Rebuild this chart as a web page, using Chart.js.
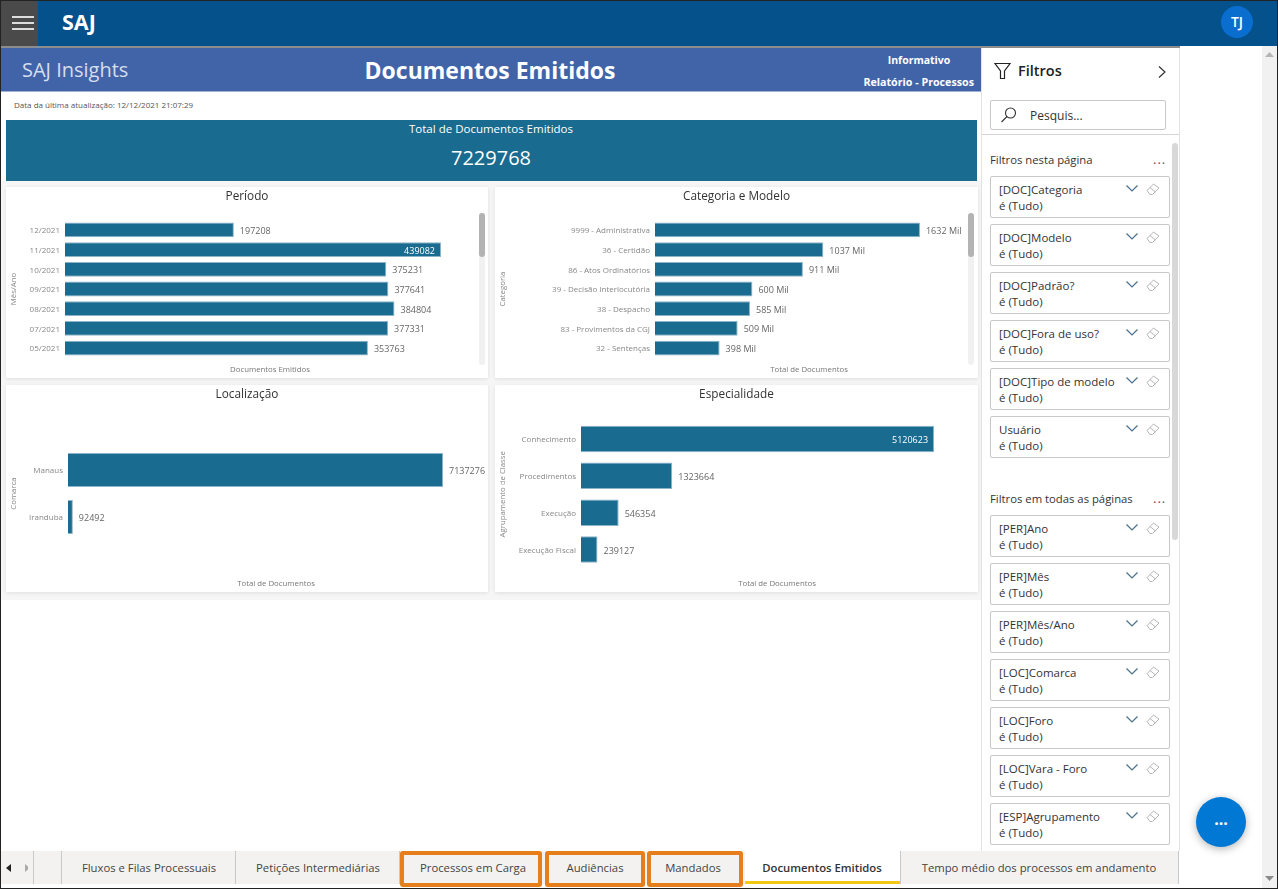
<!DOCTYPE html>
<html lang="pt">
<head>
<meta charset="utf-8">
<title>Documentos Emitidos</title>
<script src="https://cdn.jsdelivr.net/npm/chart.js@4"></script>
<style>
  * { box-sizing: border-box; }
  html, body { margin: 0; width: 1278px; height: 889px; overflow: hidden; background: #fff; font-family: "Open Sans", sans-serif; }
  .abs { position: absolute; }
  .center { text-align: center; transform: translateX(-50%); white-space: nowrap; }
  #frame { left: 0; top: 0; width: 1278px; height: 889px; border: 1px solid #222; z-index: 50; pointer-events: none; }
  .panel { position: absolute; background: #fff; box-shadow: 0 1px 4px rgba(0,0,0,.10); }
  .panel canvas { display: block; }
  .card { position: absolute; left: 990px; width: 180px; height: 42px; border: 1px solid #c8c8c8; border-radius: 2px; background: #fff; font-size: 11.5px; line-height: 16px; padding: 5px 0 0 8px; color: #333; }
  .card svg { position: absolute; top: 7px; }
  .tab { position: absolute; top: 860px; font-size: 11.3px; color: #444; white-space: nowrap; transform: translateX(-50%); }
  .sep { position: absolute; top: 851px; width: 1px; height: 33px; background: #c8c8c8; }
  .orange { position: absolute; top: 851px; height: 36px; border: 4px solid #e67e1c; border-radius: 3px; z-index: 5; }
</style>
</head>
<body>
<div class="abs" id="frame"></div>

<!-- Top bar -->
<div class="abs" style="left:0;top:0;width:1278px;height:46px;background:#04518c"></div>
<div class="abs" style="left:1px;top:1px;width:37px;height:45px;background:#4a4a4a"></div>
<div class="abs" style="left:12px;top:16px;width:22px;height:2px;background:#ddd"></div>
<div class="abs" style="left:12px;top:22px;width:22px;height:2px;background:#ddd"></div>
<div class="abs" style="left:12px;top:28px;width:22px;height:2px;background:#ddd"></div>
<div class="abs" style="left:62px;top:9px;color:#fff;font-size:21.5px;font-weight:700;line-height:26px">SAJ</div>
<div class="abs" style="left:1221px;top:6px;width:32px;height:32px;border-radius:50%;background:#0a6ecf;color:#fff;font-size:14px;font-weight:600;line-height:32px;text-align:center">TJ</div>

<!-- Report header -->
<div class="abs" style="left:1px;top:46px;width:1179px;height:2px;background:#8c8c8c"></div>
<div class="abs" style="left:1px;top:48px;width:980px;height:44px;background:#4164a9;border-bottom:1px solid #9fb2d6"></div>
<div class="abs" style="left:22px;top:57px;color:#d5deee;font-size:20px;line-height:26px">SAJ Insights</div>
<div class="abs center" style="left:490px;top:53px;color:#fff;font-size:23px;font-weight:700;line-height:34px">Documentos Emitidos</div>
<div class="abs center" style="left:919px;top:52px;color:#fff;font-size:10.5px;font-weight:700;line-height:16px">Informativo</div>
<div class="abs" style="right:304px;top:74px;color:#fff;font-size:10.7px;font-weight:700;line-height:16px;white-space:nowrap">Relatório - Processos</div>
<div class="abs" style="left:14px;top:98px;color:#555;font-size:8px;line-height:13px">Data da última atualização: 12/12/2021 21:07:29</div>

<!-- Total card -->
<div class="abs" style="left:6px;top:120px;width:971px;height:61px;background:#196b8f"></div>
<div class="abs center" style="left:491px;top:121px;color:#fff;font-size:11.5px;line-height:16px">Total de Documentos Emitidos</div>
<div class="abs center" style="left:491px;top:143px;color:#fff;font-size:20px;line-height:30px">7229768</div>

<!-- Charts -->
<div class="abs" style="left:1px;top:181px;width:980px;height:419px;background:#f6f6f6"></div>
<div class="panel" style="left:6px;top:187px;width:482px;height:191px"><canvas id="periodoChart" width="482" height="191"></canvas></div>
<div class="panel" style="left:495px;top:187px;width:483px;height:191px"><canvas id="categoriaChart" width="483" height="191"></canvas></div>
<div class="panel" style="left:6px;top:385px;width:482px;height:207px"><canvas id="localChart" width="482" height="207"></canvas></div>
<div class="panel" style="left:495px;top:385px;width:483px;height:207px"><canvas id="especialidadeChart" width="483" height="207"></canvas></div>
<div class="abs" style="left:479px;top:213px;width:6px;height:152px;background:#f1f1f1;border-radius:3px"></div>
<div class="abs" style="left:479px;top:213px;width:6px;height:44px;background:#b3b3b3;border-radius:3px"></div>
<div class="abs" style="left:968px;top:213px;width:6px;height:152px;background:#f1f1f1;border-radius:3px"></div>
<div class="abs" style="left:968px;top:213px;width:6px;height:44px;background:#b3b3b3;border-radius:3px"></div>

<!-- Filter pane -->
<div class="abs" style="left:981px;top:48px;width:199px;height:803px;background:#fff;border-left:1px solid #e3e3e3;border-right:1px solid #e3e3e3"></div>
<svg class="abs" style="left:994px;top:62px" width="18" height="18" viewBox="0 0 18 18" fill="none" stroke="#222" stroke-width="1.2"><path d="M1 1.5h15L10.5 9v7.5h-4V9z"/></svg>
<div class="abs" style="left:1018px;top:60px;color:#222;font-size:14.5px;font-weight:600;line-height:21px">Filtros</div>
<svg class="abs" style="left:1157px;top:65px" width="10" height="14" viewBox="0 0 10 14" fill="none" stroke="#333" stroke-width="1.2"><path d="M2 1.5l6 5.5-6 5.5"/></svg>
<div class="abs" style="left:990px;top:100px;width:176px;height:30px;border:1px solid #c8c8c8;border-radius:2px"></div>
<svg class="abs" style="left:1000px;top:106px" width="18" height="18" viewBox="0 0 18 18" fill="none" stroke="#333" stroke-width="1.1"><circle cx="10.5" cy="7" r="5"/><path d="M7 10.5L1.5 16"/></svg>
<div class="abs" style="left:1030px;top:107px;color:#333;font-size:12px;line-height:18px">Pesquis...</div>
<div class="abs" style="left:982px;top:134px;width:197px;height:1px;background:#d4d4d4"></div>
<div class="abs" style="left:1172px;top:143px;width:6px;height:397px;background:#d8d8d8;border-radius:3px"></div>
<div class="abs" style="left:990px;top:152px;color:#333;font-size:11.3px;line-height:16px">Filtros nesta página</div>
<div class="abs" style="left:1153px;top:151px;color:#555;font-size:13px;line-height:16px;letter-spacing:1px">...</div>
<div class="abs" style="left:990px;top:491px;color:#333;font-size:11.3px;line-height:16px">Filtros em todas as páginas</div>
<div class="abs" style="left:1153px;top:490px;color:#555;font-size:13px;line-height:16px;letter-spacing:1px">...</div>
<div id="filterCards"></div>

<!-- Page scrollbar -->
<div class="abs" style="left:1262px;top:46px;width:15px;height:842px;background:#f1f1f1"></div>
<svg class="abs" style="left:1265px;top:52px" width="9" height="6"><path d="M0 5h9L4.500 0z" fill="#b5b5b5"/></svg>
<svg class="abs" style="left:1265px;top:876px" width="9" height="6"><path d="M0 0h9L4.500 5z" fill="#8a8a8a"/></svg>

<!-- Floating button -->
<div class="abs" style="left:1196px;top:797px;width:50px;height:50px;border-radius:50%;background:#0078d4;box-shadow:0 2px 8px rgba(0,0,0,.3);color:#fff;font-size:16px;font-weight:700;line-height:44px;text-align:center">...</div>

<!-- Tabs -->
<div class="abs" style="left:1px;top:851px;width:1178px;height:33px;background:#f3f2f1"></div>
<div class="abs" style="left:745px;top:851px;width:155px;height:33px;background:#fff;border-bottom:3px solid #f2c811"></div>
<svg class="abs" style="left:6px;top:864px" width="22" height="8"><path d="M5 0v8L0 4z" fill="#222"/><path d="M23 0v8l5-4z" fill="#aaa" transform="translate(-4 0)"/></svg>
<div id="tabBar"></div>
<div class="orange" style="left:400px;width:142px"></div>
<div class="orange" style="left:545px;width:100px"></div>
<div class="orange" style="left:647px;width:96px"></div>

<script>
// Periodo
const periodoLabels = ['12/2021', '11/2021', '10/2021', '09/2021', '08/2021', '07/2021', '05/2021'];
const periodoValues = [197208, 439082, 375231, 377641, 384804, 377331, 353763];

// Categoria e Modelo (in thousands)
const categoriaLabels = ['9999 - Administrativa', '36 - Certidão', '86 - Atos Ordinatórios', '39 - Decisão Interlocutória', '38 - Despacho', '83 - Provimentos da CGJ', '32 - Sentenças'];
const categoriaValues = [1632, 1037, 911, 600, 585, 509, 398];

// Localizacao
const localLabels = ['Manaus', 'Iranduba'];
const localValues = [7137276, 92492];

// Especialidade
const especialidadeLabels = ['Conhecimento', 'Procedimentos', 'Execução', 'Execução Fiscal'];
const especialidadeValues = [5120623, 1323664, 546354, 239127];

// Filter pane and tabs
const pageFilters = ['[DOC]Categoria', '[DOC]Modelo', '[DOC]Padrão?', '[DOC]Fora de uso?', '[DOC]Tipo de modelo', 'Usuário'];
const allPageFilters = ['[PER]Ano', '[PER]Mês', '[PER]Mês/Ano', '[LOC]Comarca', '[LOC]Foro', '[LOC]Vara - Foro', '[ESP]Agrupamento'];
const tabNames = ['Fluxos e Filas Processuais', 'Petições Intermediárias', 'Processos em Carga', 'Audiências', 'Mandados', 'Documentos Emitidos', 'Tempo médio dos processos em andamento'];
const tabCenters = [149, 318, 473, 595, 693, 822, 1039];
const tabSeparators = [33, 61, 235, 399, 900, 1178];

const cardIcons = '<svg style="left:134px" width="14" height="10" viewBox="0 0 14 10" fill="none" stroke="#4a6f8a" stroke-width="1.2"><path d="M1.500 1.500L7 7l5.500-5.500"/></svg>' +
  '<svg style="left:155px;top:6px" width="14" height="13" viewBox="0 0 14 13" fill="none" stroke="#b5b5b5"><path d="M1 7.500L7.500 1 13 5l-6.500 6.500H4zM4 4.500L9.500 9"/></svg>';

function addCards(names, firstTop) {
  const holder = document.getElementById('filterCards');
  names.forEach((name, i) => {
    const card = document.createElement('div');
    card.className = 'card';
    card.style.top = (firstTop + i * 48) + 'px';
    card.innerHTML = name + '<br>é (Tudo)' + cardIcons;
    holder.appendChild(card);
  });
}
addCards(pageFilters, 176);
addCards(allPageFilters, 515);

const tabBar = document.getElementById('tabBar');
tabNames.forEach((name, i) => {
  const tab = document.createElement('div');
  tab.className = 'tab';
  tab.style.left = tabCenters[i] + 'px';
  tab.textContent = name;
  if (i === 5) {
    tab.style.fontWeight = '600';
    tab.style.color = '#333';
  }
  tabBar.appendChild(tab);
});
tabSeparators.forEach(x => {
  const sep = document.createElement('div');
  sep.className = 'sep';
  sep.style.left = x + 'px';
  tabBar.appendChild(sep);
});

// Value labels next to the bars, some of them inside the bar
const barLabels = {
  id: 'barLabels',
  afterDatasetsDraw(chart, args, opts) {
    const ctx = chart.ctx;
    const bars = chart.getDatasetMeta(0).data;
    ctx.save();
    ctx.font = '9px "Open Sans"';
    ctx.textBaseline = 'middle';
    bars.forEach((bar, i) => {
      const text = chart.data.datasets[0].data[i] + opts.suffix;
      const inside = opts.inside.includes(i);
      ctx.fillStyle = inside ? '#fff' : '#666';
      ctx.textAlign = inside ? 'right' : 'left';
      ctx.fillText(text, bar.x + (inside ? -6 : 6), bar.y + 1.5);
    });
    ctx.restore();
  }
};

function barChart(id, labels, values, cfg) {
  return new Chart(document.getElementById(id), {
    type: 'bar',
    plugins: [barLabels],
    data: {
      labels: labels,
      datasets: [{
        data: values,
        backgroundColor: '#196b8f',
        borderColor: '#8db4c8',
        borderWidth: 1,
        categoryPercentage: 1,
        barPercentage: cfg.barPercentage
      }]
    },
    options: {
      indexAxis: 'y',
      responsive: false,
      animation: false,
      devicePixelRatio: 1,
      plugins: {
        legend: { display: false },
        tooltip: { enabled: false },
        title: {
          display: true,
          text: cfg.title,
          color: '#333',
          font: { family: 'Open Sans', size: 11.8, weight: 'normal', lineHeight: 1.2 },
          padding: { top: 3, bottom: cfg.plotTop - 3 - 14.16 }
        },
        barLabels: { suffix: cfg.suffix || '', inside: cfg.inside || [] }
      },
      scales: {
        x: {
          min: 0,
          max: cfg.max,
          grid: { display: false, drawTicks: false },
          border: { display: false },
          ticks: { display: false },
          title: {
            display: true,
            text: cfg.xTitle,
            color: '#777',
            font: { family: 'Open Sans', size: 7.8 },
            padding: { top: 0, bottom: 4 }
          },
          afterFit: scale => { scale.height = cfg.axisBottom; }
        },
        y: {
          grid: { display: false, drawTicks: false },
          border: { display: false },
          ticks: {
            autoSkip: false,
            padding: 5,
            labelOffset: 1,
            color: '#888',
            font: { family: 'Open Sans', size: 8 }
          },
          title: {
            display: true,
            text: cfg.yTitle,
            color: '#888',
            font: { family: 'Open Sans', size: 7.8 },
            padding: { top: 3, bottom: 0 }
          },
          afterFit: scale => { scale.width = cfg.axisLeft; }
        },
        // empty axis on the right keeps the plot narrower than the card without moving the title
        spacer: {
          axis: 'y',
          type: 'linear',
          position: 'right',
          grid: { display: false, drawTicks: false },
          border: { display: false },
          ticks: { display: false },
          afterFit: scale => { scale.width = cfg.right; }
        }
      }
    }
  });
}

barChart('periodoChart', periodoLabels, periodoValues, {
  title: 'Período', xTitle: 'Documentos Emitidos', yTitle: 'Mês/Ano',
  max: 478800, axisLeft: 59, axisBottom: 20, plotTop: 33, right: 13,
  barPercentage: 0.75, inside: [1]
});
barChart('categoriaChart', categoriaLabels, categoriaValues, {
  title: 'Categoria e Modelo', xTitle: 'Total de Documentos', yTitle: 'Categoria',
  max: 1897, axisLeft: 160, axisBottom: 20, plotTop: 33, right: 15,
  barPercentage: 0.75, suffix: ' Mil'
});
barChart('localChart', localLabels, localValues, {
  title: 'Localização', xTitle: 'Total de Documentos', yTitle: 'Comarca',
  max: 7917000, axisLeft: 62, axisBottom: 51.5, plotTop: 61.5, right: 4,
  barPercentage: 0.72
});
barChart('especialidadeChart', especialidadeLabels, especialidadeValues, {
  title: 'Especialidade', xTitle: 'Total de Documentos', yTitle: 'Agrupamento de Classe',
  max: 5686000, axisLeft: 86, axisBottom: 24, plotTop: 35.5, right: 5,
  barPercentage: 0.72, inside: [0]
});
</script>
</body>
</html>
